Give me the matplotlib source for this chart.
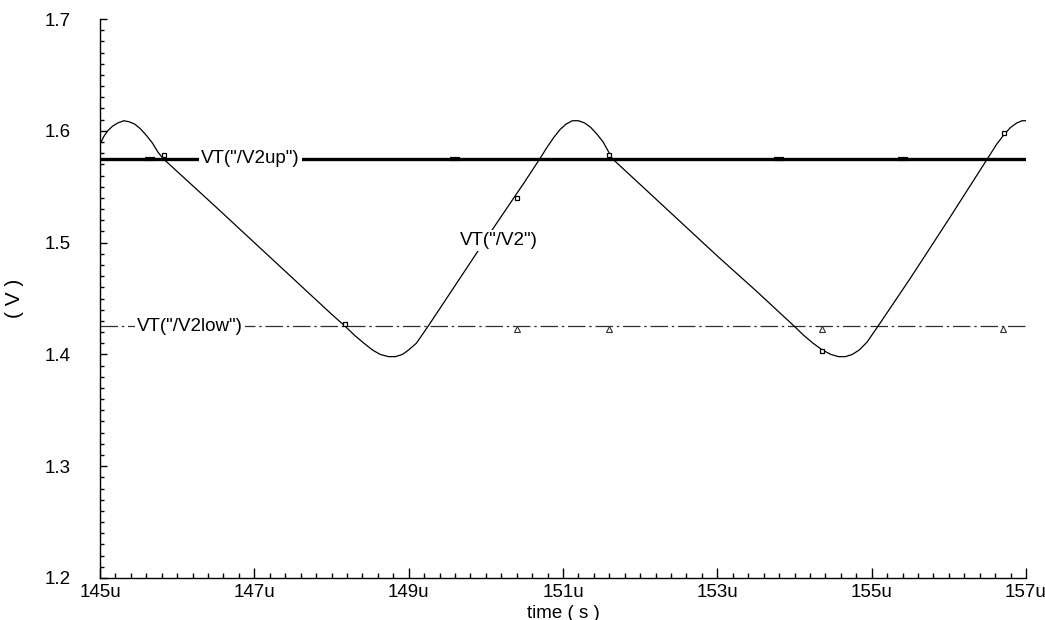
import matplotlib
matplotlib.use("Agg")
import matplotlib.pyplot as plt
from matplotlib.ticker import MultipleLocator, FuncFormatter

# ---- data (time in microseconds, voltage in V) ----
t_v2 = [145.00, 145.05, 145.10, 145.16, 145.23, 145.31, 145.38, 145.45,
        145.52, 145.60, 145.68, 145.75, 145.82, 146.50, 147.00, 147.50,
        148.00, 148.18, 148.30, 148.42, 148.53, 148.63, 148.74, 148.83,
        148.92, 149.00, 149.10, 149.25, 149.50, 150.00, 150.50, 150.70,
        150.80, 150.88, 150.96, 151.04, 151.12, 151.20, 151.28, 151.36,
        151.44, 151.52, 151.64, 152.00, 152.50, 153.00, 153.50, 154.00,
        154.12, 154.24, 154.36, 154.47, 154.57, 154.66, 154.75, 154.84,
        154.94, 155.08, 155.50, 156.00, 156.50, 156.62, 156.72, 156.80,
        156.88, 156.95, 157.00]
v_v2 = [1.588, 1.595, 1.600, 1.604, 1.607, 1.609, 1.608, 1.606,
        1.602, 1.596, 1.589, 1.581, 1.575, 1.532, 1.500, 1.468,
        1.436, 1.425, 1.417, 1.410, 1.404, 1.400, 1.398, 1.398,
        1.400, 1.404, 1.410, 1.425, 1.451, 1.503, 1.554, 1.575,
        1.586, 1.594, 1.601, 1.606, 1.609, 1.609, 1.607, 1.603,
        1.597, 1.590, 1.575, 1.552, 1.520, 1.488, 1.457, 1.425,
        1.417, 1.410, 1.404, 1.400, 1.398, 1.398, 1.400, 1.404,
        1.411, 1.425, 1.468, 1.521, 1.575, 1.588, 1.597, 1.603,
        1.607, 1.609, 1.609]

t_range = [145.0, 157.0]
v_up = [1.575, 1.575]
v_low = [1.425, 1.425]

# small marker positions on each trace
t_v2_marks = [145.83, 148.18, 150.40, 151.60, 154.35, 156.72]
v_v2_marks = [1.578, 1.427, 1.540, 1.578, 1.403, 1.598]
t_up_marks = [145.65, 149.60, 153.80, 155.40]
t_low_marks = [150.40, 151.60, 154.35, 156.70]

x_ticks = [145, 147, 149, 151, 153, 155, 157]
y_ticks = [1.2, 1.3, 1.4, 1.5, 1.6, 1.7]

label_up = 'VT("/V2up")'
label_low = 'VT("/V2low")'
label_v2 = 'VT("/V2")'

plt.rcParams['font.family'] = ['Liberation Sans', 'DejaVu Sans']

fig = plt.figure(figsize=(10.45, 6.2), dpi=100)
ax = fig.add_axes([100/1045, 42/620, 926/1045, 559/620])

ax.plot(t_range, v_up, color='black', lw=2.4, zorder=2)
ax.plot(t_range, v_low, color='#303030', lw=0.9, dashes=(14, 3, 2, 3), zorder=2)
ax.plot(t_v2, v_v2, color='black', lw=0.9, zorder=3)

ax.plot(t_v2_marks, v_v2_marks, ls='none', marker='s', ms=3.5, mfc='white',
        mec='black', mew=0.9, zorder=4)
ax.plot(t_up_marks, [v_up[0]] * len(t_up_marks), ls='none', marker='_', ms=7,
        mew=3, color='black', zorder=4)
ax.plot(t_low_marks, [v_low[0] - 0.002] * len(t_low_marks), ls='none', marker='^',
        ms=4, mfc='white', mec='#303030', mew=0.8, zorder=4)

fs = 13.5
box = dict(facecolor='white', edgecolor='none', pad=1.5)
ax.text(146.95, 1.575, label_up, fontsize=fs, ha='center', va='center', bbox=box, zorder=5)
ax.text(146.16, 1.425, label_low, fontsize=fs, ha='center', va='center', bbox=box, zorder=5)
ax.text(150.17, 1.502, label_v2, fontsize=fs, ha='center', va='center', bbox=box, zorder=5)

ax.set_xlim(145, 157)
ax.set_ylim(1.2, 1.7)
ax.set_xticks(x_ticks)
ax.set_yticks(y_ticks)
ax.xaxis.set_major_formatter(FuncFormatter(lambda x, p: f"{x:.0f}u"))
ax.yaxis.set_major_formatter(FuncFormatter(lambda y, p: f"{y:.1f}"))
ax.xaxis.set_minor_locator(MultipleLocator(0.2))
ax.yaxis.set_minor_locator(MultipleLocator(0.01))

for s in ['top', 'right']:
    ax.spines[s].set_visible(False)
for s in ['left', 'bottom']:
    ax.spines[s].set_linewidth(1.0)

ax.tick_params(axis='x', which='major', direction='in', length=7, width=1, pad=4, labelsize=fs)
ax.tick_params(axis='x', which='minor', direction='in', length=3.5, width=1)
ax.tick_params(axis='y', which='major', direction='in', length=5, width=1, pad=21, labelsize=fs)
ax.tick_params(axis='y', which='minor', direction='in', length=3, width=1)

ax.set_xlabel('time ( s )', fontsize=fs, labelpad=3)
ax.set_ylabel('( V )', fontsize=15)
ax.yaxis.set_label_coords(-76/926, 0.5)

fig.savefig('out.png', dpi=100, facecolor='white')
